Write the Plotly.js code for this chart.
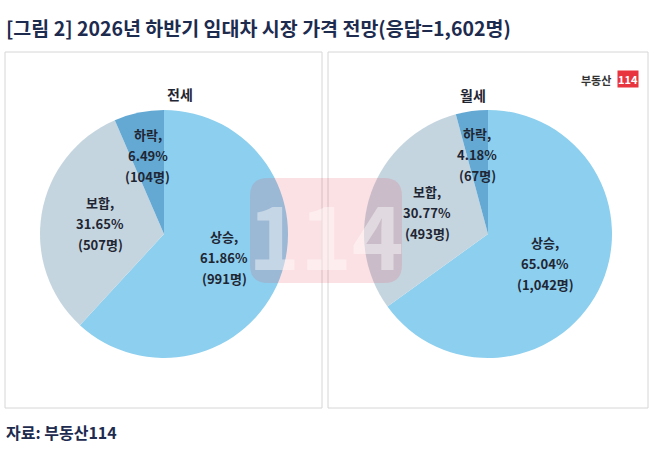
<!DOCTYPE html>
<html>
<head>
<meta charset="utf-8">
<script src="https://cdn.plot.ly/plotly-3.0.1.min.js"></script>
<style>
  html, body { margin: 0; padding: 0; background: #ffffff; }
  #chart { width: 655px; height: 450px; }
</style>
</head>
<body>
<div id="chart"></div>
<script>
// Survey data (respondents = 1,602)
const categories = ['상승', '보합', '하락'];
const jeonseShare = [61.86, 31.65, 6.49];
const jeonseCount = [991, 507, 104];
const wolseShare = [65.04, 30.77, 4.18];
const wolseCount = [1042, 493, 67];
const panelTitles = ['전세', '월세'];

const W = 655, H = 450;
const FONT = '"Noto Sans CJK KR", "Noto Sans", sans-serif';
const TEXT_DARK = '#1f2633';
const NAVY = '#1d2b4f';
const SLICE_COLORS = ['#8dcfee', '#c5d5df', '#64a9d4'];

// pixel -> paper helpers
const px = x => x / W;
const py = y => 1 - y / H;

// pie boxes in pixels: [left, top, size]
const pieBoxes = [
  { left: 40, top: 110, size: 248 },
  { left: 364, top: 110, size: 248 },
];

function makePie(share, box) {
  return {
    type: 'pie',
    values: share,
    labels: categories,
    sort: false,
    direction: 'clockwise',
    rotation: 0,
    textinfo: 'none',
    hoverinfo: 'label+percent',
    marker: { colors: SLICE_COLORS, line: { width: 0 } },
    domain: {
      x: [px(box.left), px(box.left + box.size)],
      y: [py(box.top + box.size), py(box.top)],
    },
  };
}

// slice labels placed at each slice's mid-angle
function sliceLabels(share, count, box) {
  const out = [];
  const total = share.reduce((a, b) => a + b, 0);
  const cx = box.left + box.size / 2;
  const cy = box.top + box.size / 2;
  const R = box.size / 2;
  let acc = 0;
  share.forEach((v, i) => {
    const mid = (acc + v / 2) / total * 2 * Math.PI;
    acc += v;
    const f = v < 10 ? 0.65 : 0.52;
    const x = cx + f * R * Math.sin(mid);
    const y = cy - f * R * Math.cos(mid);
    const lines = [
      categories[i] + ',',
      v.toFixed(2) + '%',
      '(' + count[i].toLocaleString('en-US') + '명)',
    ];
    lines.forEach((t, k) => {
      out.push({
        text: t,
        x: px(x), y: py(y),
        xref: 'paper', yref: 'paper',
        xanchor: 'center', yanchor: 'middle',
        yshift: (1 - k) * 21,
        showarrow: false,
        font: { family: FONT, size: 13, color: TEXT_DARK, weight: 'bold' },
      });
    });
  });
  return out;
}

const data = [
  makePie(jeonseShare, pieBoxes[0]),
  makePie(wolseShare, pieBoxes[1]),
];

const annotations = [
  {
    text: '[그림 2] 2026년 하반기 임대차 시장 가격 전망(응답=1,602명)',
    x: px(4), y: py(27), xref: 'paper', yref: 'paper',
    xanchor: 'left', yanchor: 'middle', showarrow: false,
    font: { family: FONT, size: 19.5, color: NAVY, weight: 'bold' },
  },
  {
    text: '자료: 부동산114',
    x: px(4), y: py(432), xref: 'paper', yref: 'paper',
    xanchor: 'left', yanchor: 'middle', showarrow: false,
    font: { family: FONT, size: 16, color: NAVY, weight: 'bold' },
  },
  {
    text: panelTitles[0],
    x: px(165), y: py(82), xref: 'paper', yref: 'paper',
    showarrow: false,
    font: { family: FONT, size: 14, color: TEXT_DARK, weight: 'bold' },
  },
  {
    text: panelTitles[1],
    x: px(488), y: py(83), xref: 'paper', yref: 'paper',
    showarrow: false,
    font: { family: FONT, size: 14, color: TEXT_DARK, weight: 'bold' },
  },
  // logo
  {
    text: '부동산',
    x: px(613), y: py(70), xref: 'paper', yref: 'paper',
    xanchor: 'right', showarrow: false,
    font: { family: FONT, size: 11, color: '#333333', weight: 'bold' },
  },
  {
    text: '114',
    x: px(617), y: py(70), xref: 'paper', yref: 'paper',
    xanchor: 'left', showarrow: false, bgcolor: '#e8343f', borderpad: 0,
    font: { family: FONT, size: 11, color: '#ffffff', weight: 'bold' },
  },
  // watermark glyphs
  {
    text: '114',
    x: px(326), y: py(231), xref: 'paper', yref: 'paper',
    showarrow: false,
    font: { family: FONT, size: 88, color: 'rgba(255,255,255,0.42)', weight: 'bold' },
  },
  ...sliceLabels(jeonseShare, jeonseCount, pieBoxes[0]),
  ...sliceLabels(wolseShare, wolseCount, pieBoxes[1]),
];

const shapes = [
  {
    type: 'rect', xref: 'paper', yref: 'paper',
    x0: px(5), x1: px(322), y0: py(408), y1: py(52),
    line: { color: '#d6d6d6', width: 1 }, fillcolor: 'rgba(0,0,0,0)', layer: 'below',
  },
  {
    type: 'rect', xref: 'paper', yref: 'paper',
    x0: px(328), x1: px(648), y0: py(408), y1: py(52),
    line: { color: '#d6d6d6', width: 1 }, fillcolor: 'rgba(0,0,0,0)', layer: 'below',
  },
  // faint watermark block
  {
    type: 'path', xref: 'paper', yref: 'paper', layer: 'above',
    path: (() => {
      const x0 = 250, x1 = 402, y0 = 178, y1 = 283, r = 18;
      const X = v => px(v), Y = v => py(v);
      return `M ${X(x0 + r)} ${Y(y0)} L ${X(x1 - r)} ${Y(y0)} Q ${X(x1)} ${Y(y0)} ${X(x1)} ${Y(y0 + r)} ` +
        `L ${X(x1)} ${Y(y1 - r)} Q ${X(x1)} ${Y(y1)} ${X(x1 - r)} ${Y(y1)} L ${X(x0 + r)} ${Y(y1)} ` +
        `Q ${X(x0)} ${Y(y1)} ${X(x0)} ${Y(y1 - r)} L ${X(x0)} ${Y(y0 + r)} Q ${X(x0)} ${Y(y0)} ${X(x0 + r)} ${Y(y0)} Z`;
    })(),
    fillcolor: 'rgba(232,70,85,0.16)', line: { width: 0 },
  },
];

const layout = {
  width: W,
  height: H,
  margin: { l: 0, r: 0, t: 0, b: 0 },
  paper_bgcolor: '#ffffff',
  showlegend: false,
  annotations: annotations,
  shapes: shapes,
};

Plotly.newPlot('chart', data, layout, { displayModeBar: false, staticPlot: true });
</script>
</body>
</html>
